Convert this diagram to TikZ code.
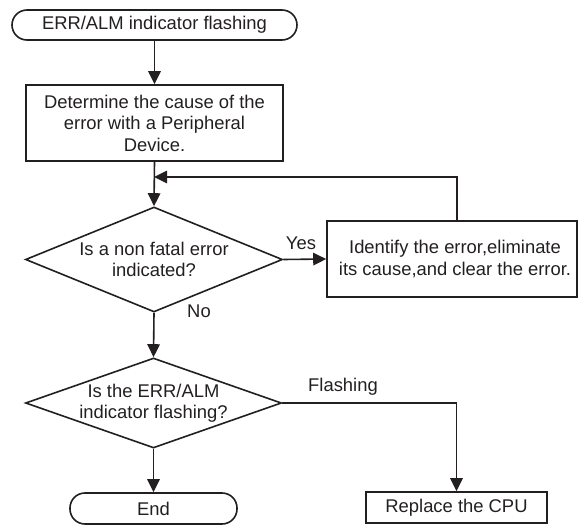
\documentclass[tikz,border=0pt]{standalone}
\usepackage{fontspec}
\setmainfont{Liberation Sans}
\usetikzlibrary{arrows.meta,shapes.geometric}
\definecolor{ink}{RGB}{35,31,32}
\begin{document}
\begin{tikzpicture}[x=1pt,y=-1pt,
  every node/.style={font=\fontsize{18.4}{21.5}\selectfont, text=ink},
  base/.style={draw=ink, line width=1.6pt, inner sep=0pt, align=center},
  term/.style={base, rounded corners=15pt},
  proc/.style={base, rectangle},
  decide/.style={draw=ink, line width=1.6pt, diamond, inner sep=0pt},
  conn/.style={draw=ink, line width=1.6pt, -{Triangle[length=13pt,width=12.5pt]}},
  lbl/.style={inner sep=0pt}]
\useasboundingbox (0,0) rectangle (579,527);

\node[term, minimum width=285pt, minimum height=30pt] (start) at (154.5,25) {ERR/ALM indicator flashing};
\node[proc, minimum width=257pt, minimum height=76pt] (cause) at (154.5,123) {Determine the cause of the\\error with a Peripheral\\Device.};
\node[decide, minimum width=257pt, minimum height=105pt, aspect=2.45] (d1) at (154,259.5) {};
\node[align=center, inner sep=0pt] (d1t) at (d1.center) {Is a non fatal error\\indicated?};
\node[proc, minimum width=250pt, minimum height=76pt] (fix) at (452,259) {};
\node[align=center, inner sep=0pt] (fixt) at (455,259) {Identify the error,eliminate\\its cause,and clear the error.};
\node[decide, minimum width=256pt, minimum height=90pt, aspect=2.84] (d2) at (153.5,403) {};
\node[align=center, inner sep=0pt] (d2t) at (d2.center) {Is the ERR/ALM\\indicator flashing?};
\node[term, minimum width=167pt, minimum height=31pt] (end) at (153.5,508.5) {End};
\node[proc, minimum width=181pt, minimum height=31pt] (cpu) at (456.5,507.5) {Replace the CPU};

\coordinate (j) at (154,177);
\coordinate (up) at (457,221);

\draw[conn] (start.south) -- (cause.north);
\draw[conn] (cause.south) -- (d1.north);
\draw[conn] (up) |- (j);
\draw[conn] (d1.east) -- (fix.west);
\draw[conn] (d1.south) -- (d2.north);
\draw[conn] (d2.east) -| (cpu.north);
\draw[conn] (d2.south) -- (end.north);

\node[lbl] (yes) at (301,243) {Yes};
\node[lbl] (no) at (199,311) {No};
\node[lbl] (flash) at (343,387) {Flashing};
\end{tikzpicture}
\end{document}
